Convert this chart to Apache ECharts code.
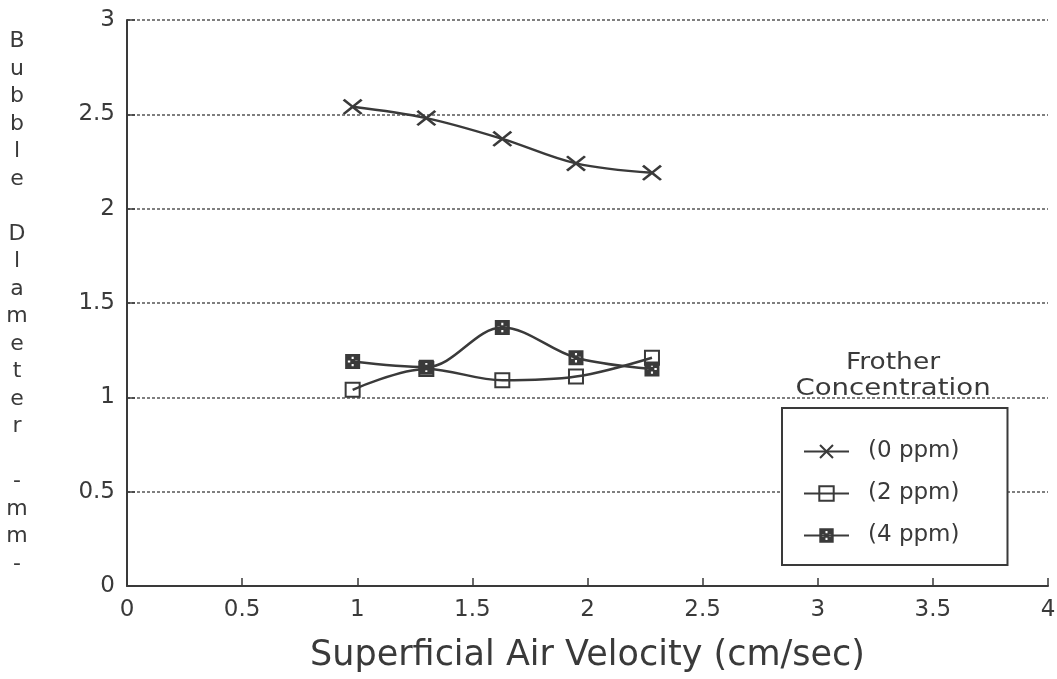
<!DOCTYPE html>
<html><head><meta charset="utf-8">
<script src="https://cdn.jsdelivr.net/npm/echarts@6/dist/echarts.min.js"></script>
<style>html,body{margin:0;padding:0;background:#fff}#chart{width:1057px;height:679px}</style>
</head><body><div id="chart"></div>
<script>
const velocity = [0.98, 1.30, 1.63, 1.95, 2.28];
const ppm0 = [2.54, 2.48, 2.37, 2.24, 2.19];
const ppm2 = [1.04, 1.15, 1.09, 1.11, 1.21];
const ppm4 = [1.19, 1.16, 1.37, 1.21, 1.15];
const seriesNames = ['(0 ppm)', '(2 ppm)', '(4 ppm)'];
const yTitleLetters = ['B','u','b','b','l','e','','D','l','a','m','e','t','e','r','','-','m','m','-'];
const xTitle = 'Superficial Air Velocity (cm/sec)';
const legendTitle = ['Frother', 'Concentration'];

const ink = '#3a3a3a';
const font = 'DejaVu Sans';
const xSym = 'path://M0,1 L1,0 L5,4 L9,0 L10,1 L6,5 L10,9 L9,10 L5,6 L1,10 L0,9 L4,5 Z';
const boxSym = 'path://M0,0 L10,0 L10,10 L0,10 Z M4.3,1.8 L4.3,3.4 L5.7,3.4 L5.7,1.8 Z M4.3,6.6 L4.3,8.2 L5.7,8.2 L5.7,6.6 Z M1.8,4.3 L1.8,5.7 L3.4,5.7 L3.4,4.3 Z M6.6,4.3 L6.6,5.7 L8.2,5.7 L8.2,4.3 Z';

function pairs(ys) { return velocity.map((v, i) => [v, ys[i]]); }

const chart = echarts.init(document.getElementById('chart'));
chart.setOption({
  backgroundColor: '#fff',
  animation: false,
  grid: { left: 127, right: 9, top: 20, bottom: 93, outerBoundsMode: 'none' },
  xAxis: {
    type: 'value', min: 0, max: 4, interval: 0.5,
    name: xTitle, nameLocation: 'middle', nameGap: 52,
    nameTextStyle: { fontFamily: font, fontSize: 35, color: ink },
    axisLine: { lineStyle: { color: ink, width: 2 } },
    axisTick: { inside: true, length: 8, lineStyle: { color: ink, width: 1.5 } },
    axisLabel: { fontFamily: font, fontSize: 23, color: ink, margin: 13 },
    splitLine: { show: false }
  },
  yAxis: {
    type: 'value', min: 0, max: 3, interval: 0.5,
    name: yTitleLetters.join('\n'), nameLocation: 'middle', nameRotate: 0, nameGap: 110,
    nameTextStyle: { fontFamily: font, fontSize: 22, color: ink, lineHeight: 27.5, align: 'center', padding: [10, 0, 0, 0] },
    axisLine: { lineStyle: { color: ink, width: 2 } },
    axisTick: { inside: true, length: 8, lineStyle: { color: ink, width: 1.5 } },
    axisLabel: { fontFamily: font, fontSize: 23, color: ink, margin: 12 },
    splitLine: { show: true, lineStyle: { color: '#555', width: 1.5, type: [3, 2] } }
  },
  legend: {
    orient: 'vertical', left: 782, top: 408,
    padding: [32, 48, 18, 21], itemGap: 19,
    itemWidth: 45, itemHeight: 18,
    backgroundColor: '#fff', borderColor: ink, borderWidth: 2,
    textStyle: { fontFamily: font, fontSize: 23, color: ink, padding: [0, 0, 0, 14] },
    data: seriesNames
  },
  graphic: [
    { type: 'text', z: 100, x: 893, y: 363, scaleX: 1.15,
      style: { text: legendTitle[0], x: 0, y: 0, align: 'center', verticalAlign: 'middle', font: '23px ' + font, fill: ink } },
    { type: 'text', z: 100, x: 893, y: 389, scaleX: 1.2,
      style: { text: legendTitle[1], x: 0, y: 0, align: 'center', verticalAlign: 'middle', font: '23px ' + font, fill: ink } }
  ],
  series: [
    { name: seriesNames[0], type: 'line', smooth: 0.35, data: pairs(ppm0),
      symbol: xSym, symbolSize: [20, 16],
      lineStyle: { color: ink, width: 2.5 }, itemStyle: { color: ink } },
    { name: seriesNames[1], type: 'line', smooth: 0.35, data: pairs(ppm2),
      symbol: 'rect', symbolSize: 14,
      lineStyle: { color: ink, width: 2.5 }, itemStyle: { color: 'rgba(255,255,255,0)', borderColor: ink, borderWidth: 2 } },
    { name: seriesNames[2], type: 'line', smooth: 0.35, data: pairs(ppm4),
      symbol: boxSym, symbolSize: 15,
      lineStyle: { color: ink, width: 2.5 }, itemStyle: { color: ink } }
  ]
});
</script></body></html>
